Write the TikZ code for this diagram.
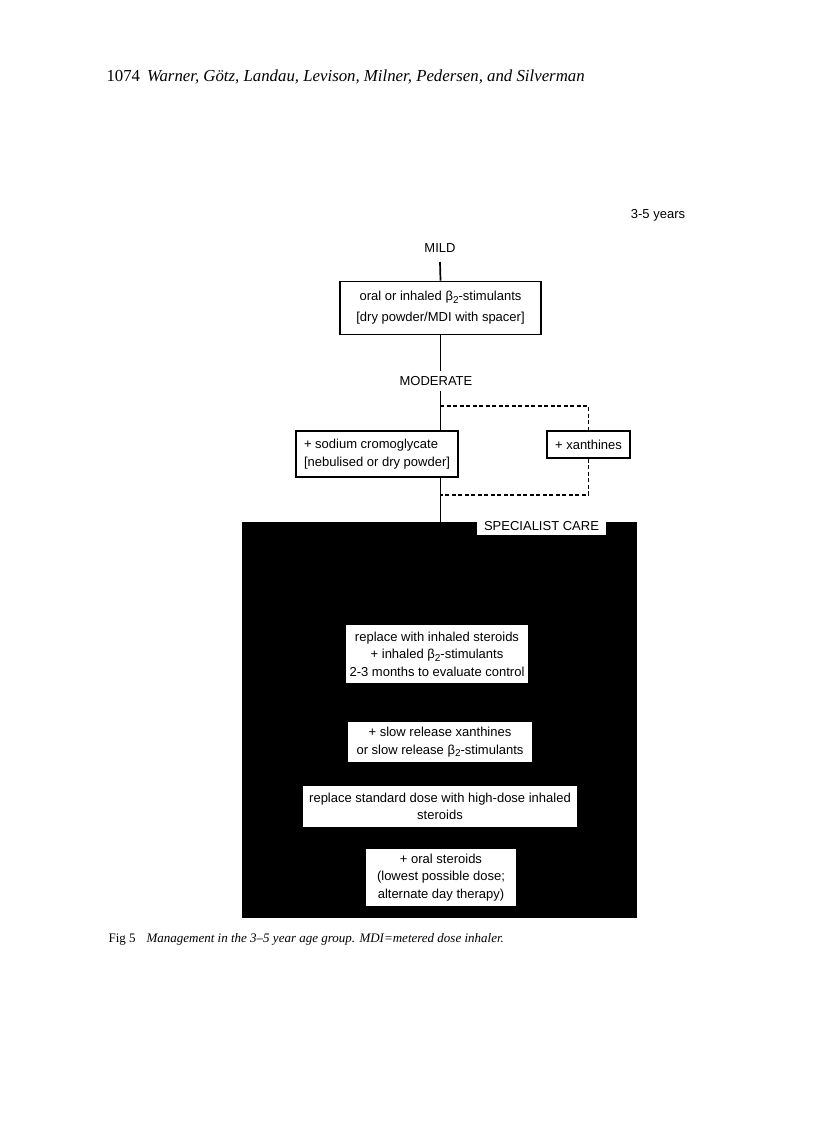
\documentclass[tikz,border=0pt]{standalone}
\usepackage{fontspec}
\setmainfont{Liberation Serif}
\setsansfont{Liberation Sans}
\usetikzlibrary{positioning}
\newcommand{\btwo}{β\raisebox{-0.35ex}{\fontsize{10}{10}\selectfont 2}}

\begin{document}
\begin{tikzpicture}[
    x=1pt, y=-1pt,
    every node/.style={font=\sffamily\fontsize{13}{17.5}\selectfont},
    stepbox/.style={draw, line width=1.7pt, fill=white, align=center, inner sep=0pt},
    carebox/.style={fill=white, align=center, inner sep=0pt},
    link/.style={line width=1.7pt},
    optlink/.style={line width=1.3pt, dash pattern=on 4pt off 2.5pt}
]
\useasboundingbox (0,0) rectangle (816,1122);

\node[anchor=base west, font=\rmfamily\fontsize{16.8}{17}\selectfont] (head) at (103,81)
    {1074\hspace{7pt}\textit{Warner, Götz, Landau, Levison, Milner, Pedersen, and Silverman}};

\node (age) at (658,215) {3-5 years};
\node (mild) at (440,248) {MILD};

\node[stepbox, minimum width=201pt, minimum height=53pt, font=\sffamily\fontsize{13}{21}\selectfont]
    (oral) at (440.5,308) {oral or inhaled \btwo-stimulants\\\relax [dry powder/MDI with spacer]};

\node (moderate) at (436,381) {MODERATE};

\node[stepbox, align=left, minimum width=162pt, minimum height=46pt] (cromo) at (377,454)
    {+ sodium cromoglycate\\\relax [nebulised or dry powder]};
\node[stepbox, minimum width=83pt, minimum height=27pt] (xanth) at (588.5,444.5) {+ xanthines};

\coordinate (dtop) at (440,406);
\coordinate (dbot) at (440,495);

% black field for specialist care
\node[fill=black, inner sep=0pt, minimum width=395pt, minimum height=396pt] (care) at (439.5,720) {};
\node[carebox, minimum width=129pt, minimum height=17pt] (spec) at (541.5,526.5) {SPECIALIST CARE};

\node[carebox, minimum width=182pt, minimum height=58pt] (inhaled) at (437,654)
    {replace with inhaled steroids\\+ inhaled \btwo-stimulants\\2-3 months to evaluate control};
\node[carebox, minimum width=184pt, minimum height=40pt] (slow) at (440,742)
    {+ slow release xanthines\\or slow release \btwo-stimulants};
\node[carebox, minimum width=274pt, minimum height=41pt] (high) at (440,806.5)
    {replace standard dose with high-dose inhaled\\steroids};
\node[carebox, minimum width=150pt, minimum height=57pt] (oralst) at (441,877.5)
    {+ oral steroids\\(lowest possible dose;\\alternate day therapy)};

% connectors
\draw[link] ([yshift=-6pt]mild.south) -- (oral.north);
\draw[link] (oral.south) -- ([yshift=2pt]oral.south |- moderate.north);
\draw[link] ([yshift=-2pt]oral.south |- moderate.south) -- (oral.south |- cromo.north);
\draw[link] (oral.south |- cromo.south) -- (oral.south |- care.north);
\draw[optlink] (dtop) -| (xanth.north);
\draw[optlink] (xanth.south) |- (dbot);

\node[anchor=base west, font=\rmfamily\fontsize{13}{13}\selectfont] (cap) at (105,942)
    {Fig 5\hspace{11pt}\textit{Management in the 3--5 year age group. MDI=metered dose inhaler.}};

\end{tikzpicture}
\end{document}
